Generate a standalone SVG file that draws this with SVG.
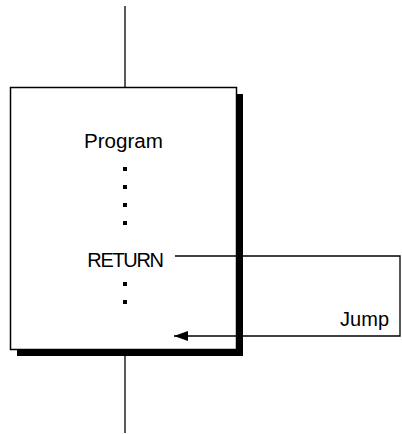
<svg xmlns="http://www.w3.org/2000/svg" width="402" height="434" viewBox="0 0 402 434">
<style>
.t{font-family:"Liberation Sans",Arial,sans-serif;font-size:20px;fill:#000}
.ln{stroke:#000;stroke-width:1.3;fill:none}
</style>
<defs>
<marker id="ah" markerWidth="14" markerHeight="10" refX="14" refY="5" orient="auto" markerUnits="userSpaceOnUse">
<path d="M0,0 L14,5 L0,10 Z" fill="#000"/>
</marker>
</defs>
<g id="program">
<rect x="17" y="94" width="226" height="262" fill="#000"/>
<rect x="10.5" y="87.5" width="226" height="262" fill="#fff" stroke="#000" stroke-width="1.5"/>
<text class="t" x="123.5" y="147.5" text-anchor="middle" textLength="79" lengthAdjust="spacingAndGlyphs">Program</text>
<rect x="123" y="167" width="4" height="4"/>
<rect x="123" y="185" width="4" height="4"/>
<rect x="123" y="203" width="4" height="4"/>
<rect x="123" y="221" width="4" height="4"/>
<text class="t" x="125" y="266.5" text-anchor="middle" letter-spacing="-1.3">RETURN</text>
<rect x="123" y="282" width="4" height="4"/>
<rect x="123" y="300" width="4" height="4"/>
</g>
<g id="connectors">
<line class="ln" x1="125" y1="6" x2="125" y2="87"/>
<line class="ln" x1="125" y1="356" x2="125" y2="433"/>
<polyline class="ln" points="175,256 400,256 400,336 174,336" marker-end="url(#ah)"/>
</g>
<g id="jump-label">
<text class="t" x="389" y="325.5" text-anchor="end">Jump</text>
</g>
</svg>
